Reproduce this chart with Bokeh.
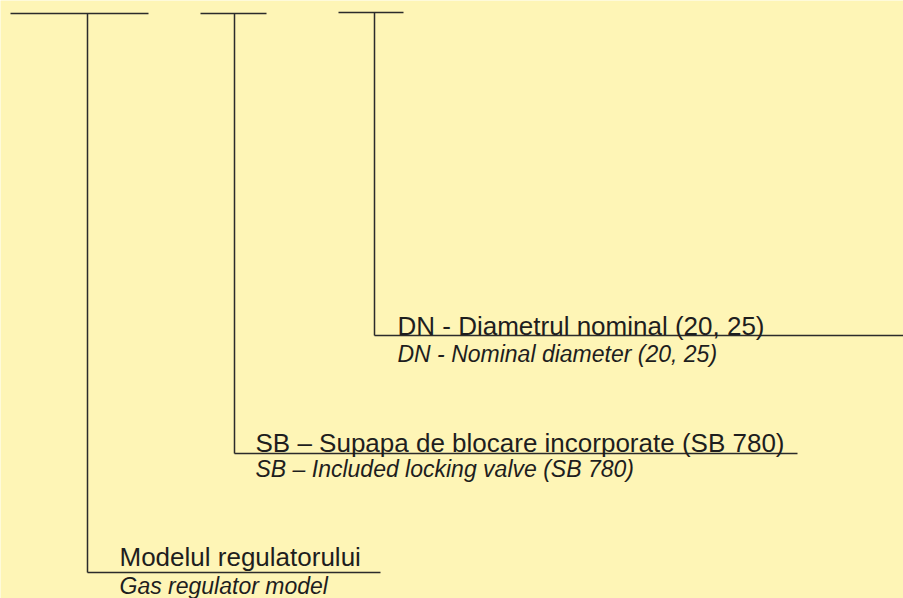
from bokeh.plotting import figure
from bokeh.models import Range1d, ColumnDataSource
from bokeh.core.properties import value
from bokeh.embed import file_html
from bokeh.resources import INLINE

# Diagram content
main_labels = ["DN - Diametrul nominal (20, 25)",
               "SB \u2013 Supapa de blocare incorporate (SB 780)",
               "Modelul regulatorului"]
sub_labels = ["DN - Nominal diameter (20, 25)",
              "SB \u2013 Included locking valve (SB 780)",
              "Gas regulator model"]

# Layout geometry (image pixel coordinates)
stem_x = [374, 234, 87]
bar_x0 = [338, 200, 10]
bar_x1 = [403, 266, 148]
bar_y = [12, 13, 13]
leader_y = [335, 453, 572]
leader_x1 = [903, 797, 380]
text_x = [397, 255, 119]
main_base = [325, 442, 556]
sub_base = [353, 468, 585]

BG = "#FEF5B6"
INK = "#2b2b2b"

p = figure(width=903, height=598, output_backend="svg", toolbar_location=None,
           x_range=Range1d(0, 903), y_range=Range1d(598, 0),
           min_border=0, background_fill_color=BG, border_fill_color=BG,
           outline_line_color=None)
p.axis.visible = False
p.grid.visible = False

# top bars
p.segment(x0=bar_x0, y0=bar_y, x1=bar_x1, y1=bar_y, line_color=INK, line_width=1.5)
# stems
p.segment(x0=stem_x, y0=bar_y, x1=stem_x, y1=leader_y, line_color=INK, line_width=1.5)
# leaders
p.segment(x0=stem_x, y0=leader_y, x1=leader_x1, y1=leader_y, line_color=INK, line_width=1.5)

src = ColumnDataSource(dict(x=text_x, ym=main_base, ys=sub_base, m=main_labels, s=sub_labels))
p.text(x="x", y="ym", text="m", source=src, text_font=value("Liberation Sans"),
       text_font_size="26px", text_color="#1e1e1e", text_baseline="alphabetic")
p.text(x="x", y="ys", text="s", source=src, text_font=value("Liberation Sans"),
       text_font_size="23px", text_font_style="italic", text_color="#1e1e1e",
       text_baseline="alphabetic")

open("out.html", "w").write(file_html(p, INLINE))
